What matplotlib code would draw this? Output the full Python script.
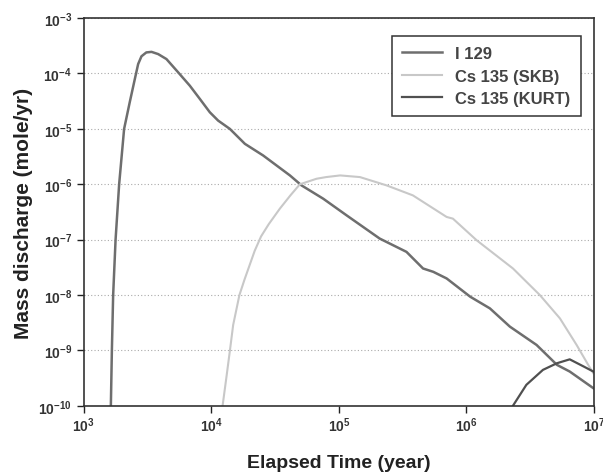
import matplotlib
matplotlib.use("Agg")
import matplotlib.pyplot as plt
import numpy as np

plt.rcParams['font.family'] = ['Liberation Sans', 'DejaVu Sans']
plt.rcParams['mathtext.fontset'] = 'custom'
plt.rcParams['mathtext.rm'] = 'Liberation Sans:bold'
plt.rcParams['mathtext.bf'] = 'Liberation Sans:bold'

# log10(tempo), log10(rilascio)
i129_logt = [3.212, 3.22, 3.23, 3.249, 3.277, 3.316, 3.36, 3.40, 3.426, 3.452, 3.49,
             3.531, 3.583, 3.648, 3.74, 3.831, 3.91, 3.988, 4.053, 4.145, 4.263, 4.406,
             4.616, 4.707, 4.877, 5.06, 5.19, 5.32, 5.53, 5.66, 5.74, 5.845, 6.03, 6.184,
             6.341, 6.55, 6.71, 6.81, 6.995]
i129_logy = [-10.0, -9.0, -8.0, -7.0, -6.0, -5.0, -4.52, -4.10, -3.83, -3.69, -3.62,
             -3.61, -3.65, -3.74, -3.98, -4.22, -4.46, -4.70, -4.85, -5.0, -5.27, -5.48,
             -5.84, -6.02, -6.26, -6.56, -6.77, -6.98, -7.22, -7.52, -7.58, -7.70, -8.03, -8.24,
             -8.57, -8.90, -9.26, -9.38, -9.68]

skb_logt = [4.088, 4.12, 4.145, 4.171, 4.22, 4.26, 4.30, 4.34, 4.39, 4.45, 4.537, 4.62, 4.694,
            4.825, 4.90, 5.01, 5.165, 5.374, 5.58, 5.845, 5.894, 6.08, 6.365, 6.576, 6.733,
            6.864, 6.955, 6.995]
skb_logy = [-10.0, -9.45, -9.01, -8.54, -8.0, -7.72, -7.46, -7.20, -6.94, -6.72, -6.44, -6.20, -6.0,
            -5.90, -5.87, -5.84, -5.87, -6.02, -6.20, -6.59, -6.62, -7.01, -7.52, -8.0, -8.42,
            -8.90, -9.26, -9.41]

kurt_logt = [6.367, 6.47, 6.60, 6.71, 6.81, 6.92, 6.995]
kurt_logy = [-9.99, -9.62, -9.35, -9.23, -9.16, -9.29, -9.38]

x_ticks = [1e3, 1e4, 1e5, 1e6, 1e7]
y_ticks = [1e-10, 1e-9, 1e-8, 1e-7, 1e-6, 1e-5, 1e-4, 1e-3]

fig = plt.figure(figsize=(6.03, 4.77), dpi=100)
ax = fig.add_axes([0.139, 0.147, 0.846, 0.813])

ax.plot(10 ** np.array(i129_logt), 10 ** np.array(i129_logy), color='#6e6e6e', lw=1.8, label='I 129')
ax.plot(10 ** np.array(skb_logt), 10 ** np.array(skb_logy), color='#c8c8c8', lw=1.5, label='Cs 135 (SKB)')
ax.plot(10 ** np.array(kurt_logt), 10 ** np.array(kurt_logy), color='#505050', lw=1.6, label='Cs 135 (KURT)')

ax.set_xscale('log')
ax.set_yscale('log')
ax.set_xlim(1e3, 1e7)
ax.set_ylim(1e-10, 1e-3)
ax.set_xticks(x_ticks)
ax.set_xticklabels([r'$10^{%d}$' % int(np.log10(v)) for v in x_ticks])
ax.set_yticks(y_ticks)
ax.set_yticklabels([r'$10^{%d}$' % int(round(np.log10(v))) for v in y_ticks])
ax.minorticks_off()
ax.tick_params(labelsize=10, labelcolor='#333333', length=5, width=1, color='#222222', direction='out')
ax.tick_params(axis='x', pad=2)
ax.grid(axis='y', linestyle=(0, (1, 2)), color='#aaaaaa', lw=0.8)
for s in ax.spines.values():
    s.set_color('#333333')
    s.set_linewidth(1.2)

ax.set_xlabel('Elapsed Time (year)', fontsize=14, fontweight='bold', color='#222222', labelpad=14)
ax.set_ylabel('Mass discharge (mole/yr)', fontsize=15, fontweight='bold', color='#222222', labelpad=4)

leg = ax.legend(loc='upper right', bbox_to_anchor=(0.99, 0.975), fancybox=False,
                edgecolor='#333333', framealpha=1, handlelength=2.4, labelspacing=0.45,
                borderpad=0.6, prop={'weight': 'bold', 'size': 12})
leg.get_frame().set_linewidth(1.1)
for t in leg.get_texts():
    t.set_color('#444444')

fig.savefig('out.png', dpi=100)
